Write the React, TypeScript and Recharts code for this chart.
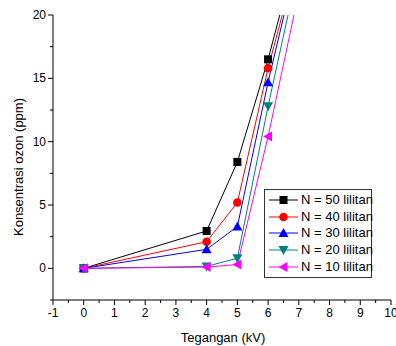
import React from 'react';
import { LineChart, Line, XAxis, YAxis } from 'recharts';

const voltages = [0, 4, 5, 6, 7];
const n50 = [0, 2.95, 8.4, 16.5, 25.7];
const n40 = [0, 2.1, 5.2, 15.8, 24.9];
const n30 = [0, 1.5, 3.3, 14.7, 24.9];
const n20 = [0, 0.15, 0.8, 12.8, 23.9];
const n10 = [0, 0.1, 0.3, 10.4, 21.8];

const xTicks = Array.from({ length: 23 }, (_, i) => -1 + i * 0.5);
const yTicks = [-2.5, 0, 2.5, 5, 7.5, 10, 12.5, 15, 17.5, 20];

const data = voltages.map((v, i) => ({
  v,
  n50: n50[i],
  n40: n40[i],
  n30: n30[i],
  n20: n20[i],
  n10: n10[i],
}));

type Shape = 'square' | 'circle' | 'up' | 'down' | 'left';

const series: { key: string; name: string; color: string; shape: Shape }[] = [
  { key: 'n50', name: 'N = 50 lilitan', color: '#000000', shape: 'square' },
  { key: 'n40', name: 'N = 40 lilitan', color: '#ff0000', shape: 'circle' },
  { key: 'n30', name: 'N = 30 lilitan', color: '#0000ff', shape: 'up' },
  { key: 'n20', name: 'N = 20 lilitan', color: '#008080', shape: 'down' },
  { key: 'n10', name: 'N = 10 lilitan', color: '#ff00ff', shape: 'left' },
];

const font = '"Liberation Sans", Arial, sans-serif';

const Marker = ({ cx, cy, shape, color }: { cx: number; cy: number; shape: Shape; color: string }) => {
  const s = 4;
  if (shape === 'square') return <rect x={cx - s} y={cy - s} width={s * 2} height={s * 2} fill={color} />;
  if (shape === 'circle') return <circle cx={cx} cy={cy} r={s + 0.3} fill={color} />;
  let pts = '';
  if (shape === 'up') pts = `${cx},${cy - s - 1} ${cx - s - 1},${cy + s} ${cx + s + 1},${cy + s}`;
  if (shape === 'down') pts = `${cx},${cy + s + 1} ${cx - s - 1},${cy - s} ${cx + s + 1},${cy - s}`;
  if (shape === 'left') pts = `${cx - s - 1},${cy} ${cx + s},${cy - s - 1} ${cx + s},${cy + s + 1}`;
  return <polygon points={pts} fill={color} />;
};

const XTick = (props: any) => {
  const { x, y, payload } = props;
  const major = Number.isInteger(payload.value);
  return (
    <g>
      <line x1={x} x2={x} y1={y} y2={y + (major ? 5 : 3)} stroke="#000" />
      {major && (
        <text x={x} y={y + 17} textAnchor="middle" fontSize={12} fontFamily={font} fill="#000">
          {payload.value}
        </text>
      )}
    </g>
  );
};

const YTick = (props: any) => {
  const { x, y, payload } = props;
  const major = payload.value % 5 === 0;
  return (
    <g>
      <line x1={x} x2={x - (major ? 5 : 3)} y1={y} y2={y} stroke="#000" />
      {major && (
        <text x={x - 7} y={y + 4} textAnchor="end" fontSize={12} fontFamily={font} fill="#000">
          {payload.value}
        </text>
      )}
    </g>
  );
};

const LegendBox = () => (
  <div
    style={{
      position: 'absolute',
      left: 264,
      top: 189,
      border: '1px solid #333',
      background: '#fff',
      width: 106,
      padding: '2px 0',
      fontFamily: font,
      fontSize: 13,
      whiteSpace: 'nowrap',
    }}
  >
    {series.map((s) => (
      <div key={s.key} style={{ display: 'flex', alignItems: 'center', height: 16.6 }}>
        <svg width={34} height={14} style={{ marginLeft: 2, flex: 'none' }}>
          <line x1={2} x2={31} y1={7} y2={7} stroke={s.color} />
          <Marker cx={16.5} cy={7} shape={s.shape} color={s.color} />
        </svg>
        <span style={{ lineHeight: '14px' }}>{s.name}</span>
      </div>
    ))}
  </div>
);

export default function App() {
  return (
    <div style={{ position: 'absolute', left: 0, top: 0, width: 396, height: 346, background: '#fff' }}>
      <LineChart width={396} height={346} data={data} margin={{ top: 15, right: 5, bottom: 16, left: 8 }}>
        <XAxis
          dataKey="v"
          type="number"
          domain={[-1, 10]}
          ticks={xTicks}
          interval={0}
          height={30}
          tickSize={0}
          tickMargin={0}
          tickLine={false}
          axisLine={{ stroke: '#000' }}
          tick={<XTick />}
        />
        <YAxis
          type="number"
          domain={[-2.5, 20]}
          allowDataOverflow
          ticks={yTicks}
          interval={0}
          width={45}
          tickSize={0}
          tickMargin={0}
          tickLine={false}
          axisLine={{ stroke: '#000' }}
          tick={<YTick />}
        />
        {series.map((s) => (
          <Line
            key={s.key}
            dataKey={s.key}
            name={s.name}
            type="linear"
            stroke={s.color}
            strokeWidth={1}
            isAnimationActive={false}
            dot={(p: any) => <Marker key={p.index} cx={p.cx} cy={p.cy} shape={s.shape} color={s.color} />}
            activeDot={false}
          />
        ))}
      </LineChart>
      <LegendBox />
      <div
        style={{
          position: 'absolute',
          left: 18,
          top: 167,
          transform: 'translate(-50%, -50%) rotate(-90deg)',
          whiteSpace: 'nowrap',
          fontFamily: font,
          fontSize: 13,
        }}
      >
        Konsentrasi ozon (ppm)
      </div>
      <div
        style={{
          position: 'absolute',
          left: 223,
          top: 337,
          transform: 'translate(-50%, -50%)',
          whiteSpace: 'nowrap',
          fontFamily: font,
          fontSize: 13,
        }}
      >
        Tegangan (kV)
      </div>
    </div>
  );
}
